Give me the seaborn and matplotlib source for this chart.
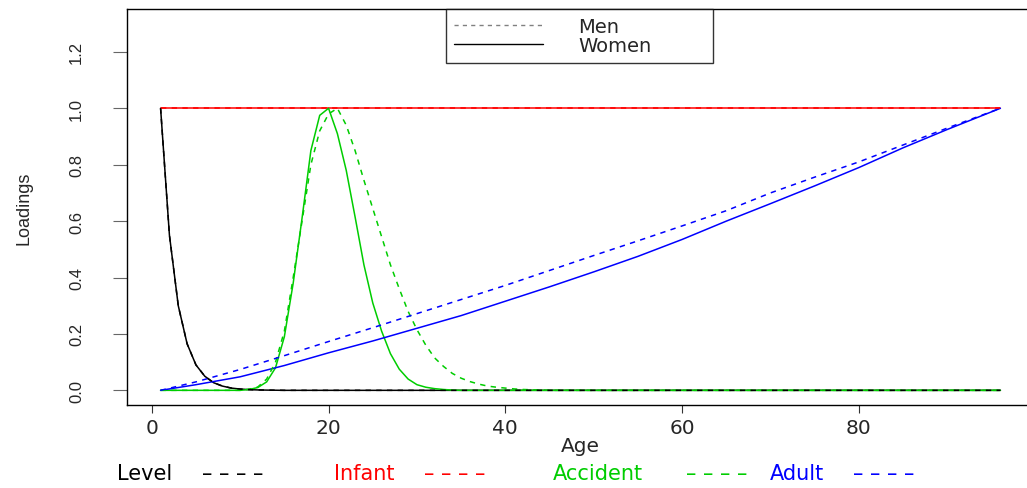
import matplotlib
matplotlib.use("Agg")
import matplotlib.pyplot as plt
import seaborn as sns
from matplotlib.lines import Line2D

age_level = [1, 2, 3, 4, 5, 6, 7, 8, 9, 10, 11, 12, 13, 14, 15, 96]
level_men = [1.0, 0.55, 0.30, 0.165, 0.09, 0.05, 0.027, 0.015, 0.008, 0.0045,
             0.0025, 0.0014, 0.0008, 0.0004, 0.0, 0.0]
level_women = [1.0, 0.55, 0.30, 0.165, 0.09, 0.05, 0.027, 0.015, 0.008, 0.0045,
               0.0025, 0.0014, 0.0008, 0.0004, 0.0, 0.0]

age_infant = [1, 96]
infant_men = [1.0, 1.0]
infant_women = [1.0, 1.0]

age_acc_women = [1, 10, 11, 12, 13, 14, 15, 16, 17, 18, 19, 20, 21, 22, 23, 24,
                 25, 26, 27, 28, 29, 30, 31, 32, 33, 34, 35, 96]
accident_women = [0.0, 0.0, 0.003, 0.01, 0.03, 0.08, 0.19, 0.38, 0.61, 0.85,
                  0.975, 1.0, 0.91, 0.78, 0.615, 0.445, 0.31, 0.21, 0.13, 0.075,
                  0.04, 0.02, 0.011, 0.006, 0.003, 0.001, 0.0, 0.0]

age_acc_men = [1, 10, 11, 12, 13, 14, 15, 16, 17, 18, 19, 20, 21, 22, 23, 24,
               25, 26, 27, 28, 29, 30, 31, 32, 33, 34, 35, 36, 37, 38, 39, 40,
               41, 42, 43, 44, 45, 96]
accident_men = [0.0, 0.0, 0.004, 0.012, 0.04, 0.1, 0.21, 0.40, 0.60, 0.80,
                0.92, 0.98, 1.0, 0.94, 0.85, 0.745, 0.645, 0.545, 0.445, 0.36,
                0.28, 0.215, 0.16, 0.115, 0.085, 0.06, 0.043, 0.031, 0.022,
                0.015, 0.011, 0.008, 0.005, 0.003, 0.002, 0.001, 0.0, 0.0]

age_adult = [1, 5, 10, 15, 20, 25, 30, 35, 40, 45, 50, 55, 60, 65, 70, 75, 80,
             85, 90, 96]
adult_men = [0.0, 0.03, 0.074, 0.123, 0.173, 0.222, 0.272, 0.322, 0.372, 0.425,
             0.478, 0.53, 0.583, 0.637, 0.70, 0.756, 0.81, 0.87, 0.93, 1.0]
adult_women = [0.0, 0.02, 0.048, 0.088, 0.133, 0.175, 0.22, 0.265, 0.316, 0.367,
               0.42, 0.475, 0.535, 0.60, 0.662, 0.725, 0.79, 0.86, 0.925, 1.0]

factor_names = ["Level", "Infant", "Accident", "Adult"]
factor_colors = ["black", "#FF0000", "#00CD00", "#0000FF"]

sns.set_style("ticks")
plt.rcParams["font.family"] = ["DejaVu Sans"]
narrow = ["Liberation Sans Narrow", "Liberation Sans"]

fig = plt.figure(figsize=(10.27, 4.89), dpi=100)
ax = fig.add_axes([127 / 1027, 83 / 489, (1034 - 127) / 1027, (406 - 10) / 489])

women = [(age_level, level_women), (age_infant, infant_women),
         (age_acc_women, accident_women), (age_adult, adult_women)]
men = [(age_level, level_men), (age_infant, infant_men),
       (age_acc_men, accident_men), (age_adult, adult_men)]

# women solid first, men dashed on top
for (x, y), col in zip(women, factor_colors):
    sns.lineplot(x=x, y=y, ax=ax, color=col, linewidth=1.1, sort=False)
for idx in [2, 3, 1, 0]:
    x, y = men[idx]
    sns.lineplot(x=x, y=y, ax=ax, color=factor_colors[idx], linewidth=1.1,
                 linestyle=(0, (3.5, 3.5)), sort=False)

ax.set_xlim(-2.8, 99.8)
ax.set_ylim(-0.052, 1.352)
ax.set_xticks([0, 20, 40, 60, 80])
ax.set_yticks([0.0, 0.2, 0.4, 0.6, 0.8, 1.0, 1.2])
ax.set_yticklabels(["0.0", "0.2", "0.4", "0.6", "0.8", "1.0", "1.2"],
                   rotation=90, va="center", family=narrow, fontsize=12)
ax.tick_params(axis="x", labelsize=14.5, length=5.5, width=0.8, pad=4,
               color="#333333")
ax.tick_params(axis="y", length=10, width=0.8, pad=21, color="#666666")

for s in ["left", "bottom", "top"]:
    ax.spines[s].set_color("black")
    ax.spines[s].set_linewidth(1.0)
ax.spines["right"].set_visible(False)

ax.set_xlabel("Age", fontsize=14.5, labelpad=-1)
ax.set_ylabel("Loadings", fontsize=13, family=narrow, labelpad=26)

handles = [Line2D([], [], color="gray", linewidth=1.0, linestyle=(0, (3, 3))),
           Line2D([], [], color="black", linewidth=1.0)]
x0 = (446 - 127) / 907
x1 = (713 - 127) / 907
leg = ax.legend(handles, ["Men", "Women"], loc="upper left",
                bbox_to_anchor=(x0, 0.0, x1 - x0, 1.0), mode="expand",
                fontsize=14, frameon=True, fancybox=False, edgecolor="black",
                borderpad=0.4, labelspacing=0.0, handlelength=4.6,
                handletextpad=1.8, borderaxespad=0.0)
leg.get_frame().set_linewidth(1.0)

# bottom key drawn as text
key_y = 1 - 474 / 489
name_x = [117, 334, 553, 770]
dash_x = [202, 424, 686, 853]
for name, col, nx, dx in zip(factor_names, factor_colors, name_x, dash_x):
    fig.text(nx / 1027, key_y, name, color=col, fontsize=15, va="center",
             ha="left")
    fig.text(dx / 1027, key_y, "– – – –", color=col, fontsize=15, va="center",
             ha="left")

fig.savefig("out.png", dpi=100)
